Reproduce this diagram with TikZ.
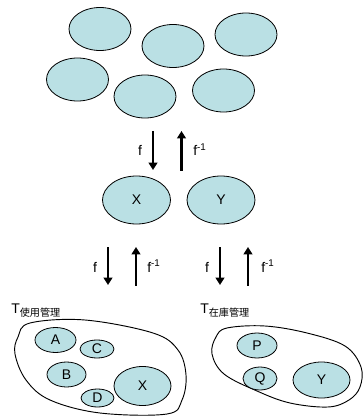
\documentclass[tikz,border=0pt]{standalone}
\usepackage{fontspec}
\setmainfont{Liberation Sans}
\newfontfamily\cjk{Noto Sans CJK JP}
\usetikzlibrary{shapes.geometric,arrows.meta}
\definecolor{cellfill}{RGB}{186,224,228}
\begin{document}
\begin{tikzpicture}[x=0.75pt,y=-0.75pt,
  cell/.style={ellipse,draw=black,line width=0.6pt,fill=cellfill,inner sep=0pt,
    font=\fontsize{10.5}{12}\selectfont},
  bigarrow/.style={line width=2.2pt,-{Triangle[length=5.5pt,width=6.5pt]}},
  lbl/.style={inner sep=0pt,font=\fontsize{10.5}{12}\selectfont},
  region/.style={draw=black,line width=0.7pt}]
\useasboundingbox (0,0) rectangle (363,417);
% top cluster
\node[cell,minimum width=46.5pt,minimum height=32.25pt] (t1) at (100,29) {};
\node[cell,minimum width=46.5pt,minimum height=32.25pt] (t2) at (173,46) {};
\node[cell,minimum width=46.5pt,minimum height=32.25pt] (t3) at (246,34.5) {};
\node[cell,minimum width=46.5pt,minimum height=32.25pt] (t4) at (77.5,79.5) {};
\node[cell,minimum width=46.5pt,minimum height=32.25pt] (t5) at (145,96.5) {};
\node[cell,minimum width=46.5pt,minimum height=32.25pt] (t6) at (223.5,90.5) {};
% top arrows
\coordinate (a1s) at (153,131); \coordinate (a1e) at (153,170);
\coordinate (a2s) at (181.5,170.5); \coordinate (a2e) at (181.5,131);
\draw[bigarrow] (a1s) -- (a1e);
\draw[bigarrow] (a2s) -- (a2e);
\node[lbl,anchor=base] (f1) at (140,156) {f};
\node[lbl,anchor=base west] (g1) at (193,156) {f\textsuperscript{-1}};
% middle
\node[cell,minimum width=51pt,minimum height=36pt] (mx) at (136.5,200) {X};
\node[cell,minimum width=51pt,minimum height=36pt] (my) at (221,200) {Y};
% lower arrows
\coordinate (b1s) at (108,247); \coordinate (b1e) at (108,285);
\coordinate (b2s) at (136,285.5); \coordinate (b2e) at (136,247);
\coordinate (b3s) at (220,247); \coordinate (b3e) at (220,285);
\coordinate (b4s) at (248,285.5); \coordinate (b4e) at (248,247);
\draw[bigarrow] (b1s) -- (b1e);
\draw[bigarrow] (b2s) -- (b2e);
\draw[bigarrow] (b3s) -- (b3e);
\draw[bigarrow] (b4s) -- (b4e);
\node[lbl,anchor=base] (f2) at (95,272) {f};
\node[lbl,anchor=base west] (g2) at (147,272) {f\textsuperscript{-1}};
\node[lbl,anchor=base] (f3) at (207,272) {f};
\node[lbl,anchor=base west] (g3) at (261,272) {f\textsuperscript{-1}};
% region labels
\node[lbl,anchor=base west] (tl) at (11,313) {T\raisebox{-0.45ex}{\fontsize{7.6}{8}\cjk 使用管理}};
\node[lbl,anchor=base west] (tr) at (200,313) {T\raisebox{-0.45ex}{\fontsize{7.6}{8}\cjk 在庫管理}};
% regions
\draw[region] plot[smooth cycle,tension=0.6] coordinates {(30,323) (85,320) (153,333) (178,350) (186,375) (182,400) (167,414) (100,413) (50,400) (26,380) (15,354) (18,337)};
\draw[region] plot[smooth cycle,tension=0.6] coordinates {(227,328) (265,326) (307,333) (345,346) (361,367) (360,387) (349,400) (328,407) (290,403) (257,391) (224,374) (212,354) (216,337)};
% left inner
\node[cell,minimum width=30.75pt,minimum height=18.75pt] (ia) at (55.5,340) {A};
\node[cell,minimum width=25.5pt,minimum height=13.5pt] (ic) at (97,349) {C};
\node[cell,minimum width=29.25pt,minimum height=18.75pt] (ib) at (66.5,374.5) {B};
\node[cell,minimum width=24.75pt,minimum height=13.5pt] (id) at (97.5,398) {D};
\node[cell,minimum width=42.75pt,minimum height=29.25pt] (ix) at (142.5,386) {X};
% right inner
\node[cell,minimum width=30pt,minimum height=18.75pt] (ip) at (257,345.5) {P};
\node[cell,minimum width=25.5pt,minimum height=17.25pt] (iq) at (260,378.5) {Q};
\node[cell,minimum width=42.75pt,minimum height=27pt] (iy) at (321.5,380) {Y};
\end{tikzpicture}
\end{document}
